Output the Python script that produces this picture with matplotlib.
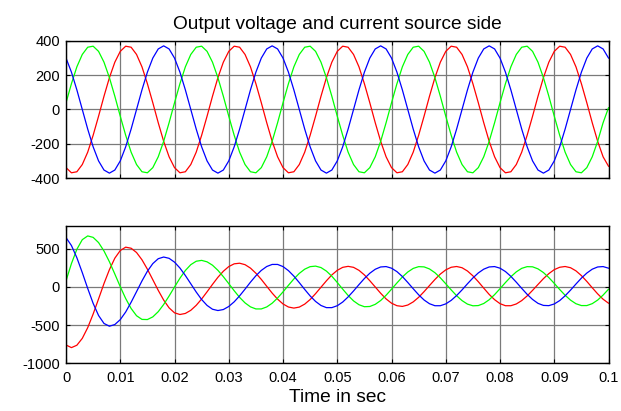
import numpy as np
import matplotlib
matplotlib.use('Agg')
import matplotlib.pyplot as plt

plt.rcParams['font.family'] = ['Liberation Sans', 'DejaVu Sans']
plt.rcParams['axes.unicode_minus'] = False

# time axis: one sample per millisecond, 0 .. 0.1 s
t = np.arange(101) / 1000.0

# output voltage (top panel)
v_blue = [299, 217, 114, 0, -114, -217, -299, -352, -370, -352,
          -299, -217, -114, 0, 114, 217, 299, 352, 370, 352,
          299, 217, 114, 0, -114, -217, -299, -352, -370, -352,
          -299, -217, -114, 0, 114, 217, 299, 352, 370, 352,
          299, 217, 114, 0, -114, -217, -299, -352, -370, -352,
          -299, -217, -114, 0, 114, 217, 299, 352, 370, 352,
          299, 217, 114, 0, -114, -217, -299, -352, -370, -352,
          -299, -217, -114, 0, 114, 217, 299, 352, 370, 352,
          299, 217, 114, 0, -114, -217, -299, -352, -370, -352,
          -299, -217, -114, 0, 114, 217, 299, 352, 370, 352,
          299]
v_green = [39, 150, 248, 320, 362, 368, 338, 275, 185, 77,
           -39, -150, -248, -320, -362, -368, -338, -275, -185, -77,
           39, 150, 248, 320, 362, 368, 338, 275, 185, 77,
           -39, -150, -248, -320, -362, -368, -338, -275, -185, -77,
           39, 150, 248, 320, 362, 368, 338, 275, 185, 77,
           -39, -150, -248, -320, -362, -368, -338, -275, -185, -77,
           39, 150, 248, 320, 362, 368, 338, 275, 185, 77,
           -39, -150, -248, -320, -362, -368, -338, -275, -185, -77,
           39, 150, 248, 320, 362, 368, 338, 275, 185, 77,
           -39, -150, -248, -320, -362, -368, -338, -275, -185, -77,
           10]
v_red = [-338, -368, -362, -320, -248, -150, -39, 77, 185, 275,
         338, 368, 362, 320, 248, 150, 39, -77, -185, -275,
         -338, -368, -362, -320, -248, -150, -39, 77, 185, 275,
         338, 368, 362, 320, 248, 150, 39, -77, -185, -275,
         -338, -368, -362, -320, -248, -150, -39, 77, 185, 275,
         338, 368, 362, 320, 248, 150, 39, -77, -185, -275,
         -338, -368, -362, -320, -248, -150, -39, 77, 185, 275,
         338, 368, 362, 320, 248, 150, 39, -77, -185, -275,
         -338, -368, -362, -320, -248, -150, -39, 77, 185, 275,
         338, 368, 362, 320, 248, 150, 39, -77, -185, -275,
         -330]

# source side current (bottom panel)
i_blue = [644, 540, 381, 186, -21, -216, -375, -479, -515, -493, -429,
          -329, -202, -63, 77, 204, 304, 368, 390, 373, 323,
          246, 148, 40, -68, -166, -243, -293, -310, -297, -257,
          -196, -118, -30, 61, 145, 215, 266, 293, 293, 265,
          212, 140, 55, -34, -119, -191, -244, -272, -272, -247,
          -199, -132, -54, 29, 109, 178, 230, 260, 265, 244,
          199, 135, 57, -25, -104, -172, -221, -247, -247, -223,
          -177, -114, -40, 40, 116, 182, 231, 260, 265, 244,
          200, 137, 61, -20, -98, -165, -216, -243, -246, -224,
          -180, -117, -43, 37, 114, 180, 231, 260, 265, 244]
i_green = [79, 304, 491, 617, 666, 647, 579, 469, 328, 167, 2,
           -153, -283, -378, -426, -428, -393, -325, -231, -120, -2,
           113, 214, 290, 335, 346, 327, 283, 216, 133, 42,
           -51, -138, -210, -262, -289, -289, -263, -214, -146, -66,
           20, 103, 176, 231, 264, 271, 252, 206, 139, 57,
           -30, -113, -184, -234, -260, -257, -229, -179, -110, -31,
           51, 129, 194, 241, 264, 261, 234, 185, 118, 40,
           -40, -116, -180, -226, -248, -245, -218, -169, -102, -24,
           56, 132, 196, 242, 264, 262, 235, 187, 121, 45,
           -35, -110, -174, -221, -245, -245, -220, -173, -108, -31]
i_red = [-761, -795, -764, -674, -534, -356, -158, 43, 225, 375, 475,
         519, 505, 449, 354, 231, 93, -46, -173, -275, -340,
         -362, -348, -307, -242, -159, -65, 32, 125, 204, 265,
         301, 309, 290, 245, 178, 97, 7, -82, -161, -224,
         -264, -278, -265, -226, -166, -89, -5, 79, 156, 216,
         255, 268, 255, 216, 156, 80, -2, -84, -158, -214,
         -247, -256, -238, -197, -137, -63, 17, 96, 167, 222,
         256, 266, 250, 207, 144, 67, -17, -99, -168, -220,
         -247, -247, -224, -180, -119, -46, 31, 107, 173, 225,
         256, 266, 250, 209, 147, 71, -12, -92, -162, -214]

x_ticks = [0, 0.01, 0.02, 0.03, 0.04, 0.05, 0.06, 0.07, 0.08, 0.09, 0.1]
v_ticks = [-400, -200, 0, 200, 400]
i_ticks = [-1000, -500, 0, 500]


def style(ax):
    ax.set_xlim(0, 0.1)
    ax.set_xticks(x_ticks)
    ax.grid(True, color='#7a7a7a', lw=0.9)
    ax.set_axisbelow(True)
    ax.tick_params(direction='in', length=3, width=0.8, top=True, right=True,
                   labelsize=10.5, pad=4.5, colors='black')
    for s in ax.spines.values():
        s.set_linewidth(1.0)
        s.set_color('black')


fig = plt.figure(figsize=(6.21, 4.11), dpi=100)
ax1 = fig.add_axes([0.1063, 0.5662, 0.8736, 0.3348])
ax2 = fig.add_axes([0.1063, 0.1161, 0.8736, 0.3348])

ax1.plot(t, v_red, color='#ff0000', lw=0.9)
ax1.plot(t, v_green, color='#00ff00', lw=0.9)
ax1.plot(t, v_blue, color='#0000ff', lw=0.9)
style(ax1)
ax1.set_ylim(-400, 400)
ax1.set_yticks(v_ticks)
ax1.set_xticklabels([])
ax1.set_title('Output voltage and current source side', fontsize=13.8, pad=8.2)

ax2.plot(t, i_red, color='#ff0000', lw=0.9)
ax2.plot(t, i_green, color='#00ff00', lw=0.9)
ax2.plot(t, i_blue, color='#0000ff', lw=0.9)
style(ax2)
ax2.set_ylim(-1000, 800)
ax2.set_yticks(i_ticks)
ax2.set_xticklabels(['%g' % x for x in x_ticks])
ax2.tick_params(axis='x', pad=5.5)
ax2.set_xlabel('Time in sec', fontsize=13.8, labelpad=3.2)

fig.savefig('out.png', dpi=100)
